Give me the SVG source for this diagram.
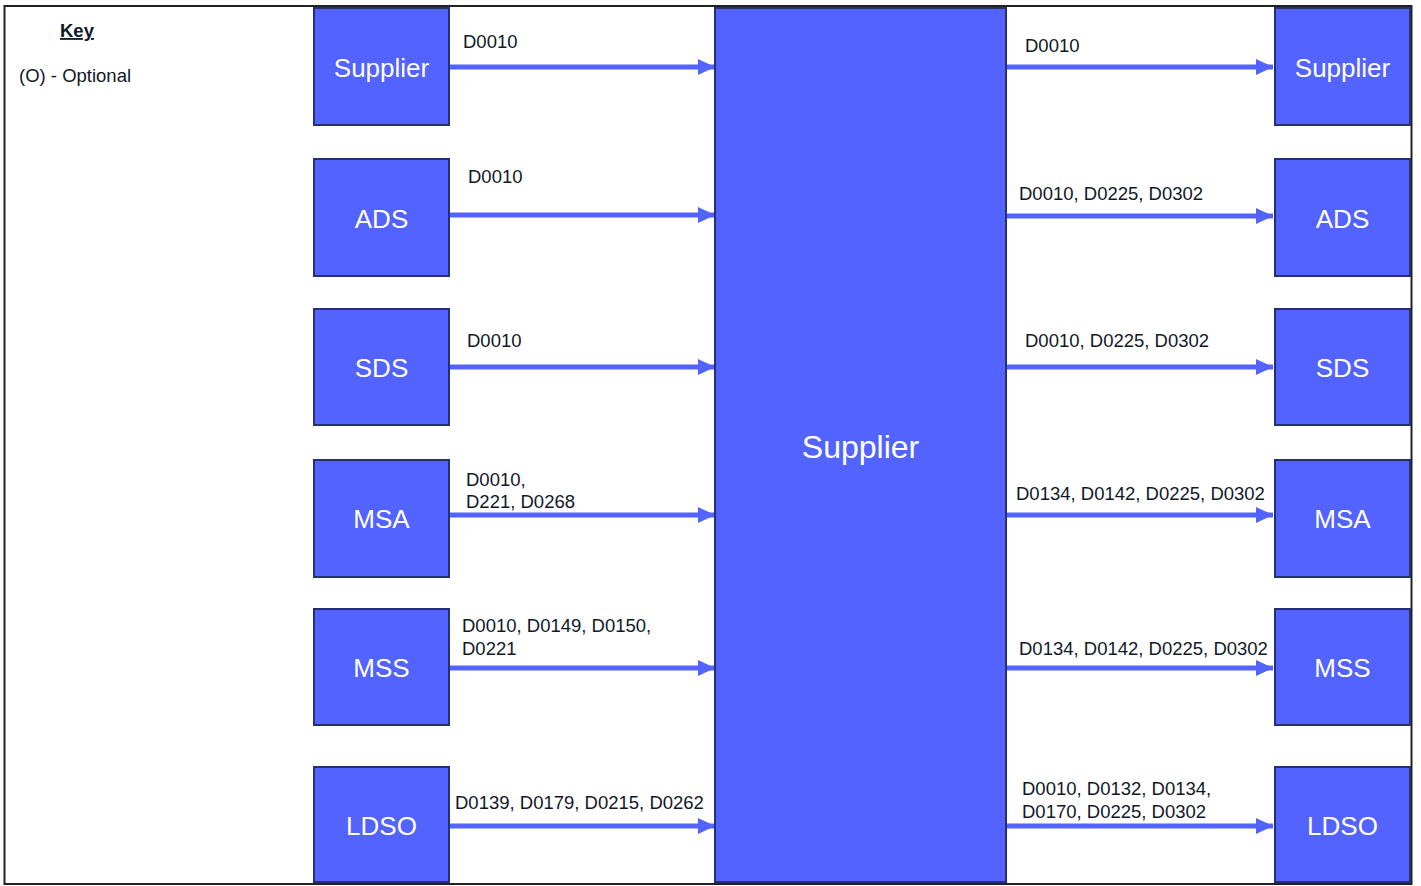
<svg xmlns="http://www.w3.org/2000/svg" width="1421" height="886" viewBox="0 0 1421 886">
<style>
.n{fill:#5263ff;stroke:#26306e;stroke-width:2}
.nt{font-family:"Liberation Sans",Arial,sans-serif;font-size:26px;fill:#ffffff;text-anchor:middle}
.big{font-size:32px}
.lb{font-family:"Liberation Sans",Arial,sans-serif;font-size:18.5px;fill:#111827}
.c{stroke:#5263ff;stroke-width:5;fill:none;marker-end:url(#ah)}
</style>
<defs>
<marker id="ah" markerUnits="userSpaceOnUse" markerWidth="18" markerHeight="18" refX="17" refY="9" orient="auto">
<path d="M0,1 L17,9 L0,17 Z" fill="#5263ff"/>
</marker>
</defs>
<rect x="0" y="0" width="1421" height="886" fill="#ffffff"/>
<rect x="4.5" y="6" width="1407" height="878" fill="none" stroke="#222" stroke-width="2"/>
<g id="key">
<text x="60" y="37" class="lb" font-weight="bold" text-decoration="underline">Key</text>
<text x="19" y="82" class="lb">(O) - Optional</text>
</g>
<g id="connectors">
<line class="c" x1="450" y1="67" x2="715" y2="67"/>
<line class="c" x1="450" y1="215" x2="715" y2="215"/>
<line class="c" x1="450" y1="367" x2="715" y2="367"/>
<line class="c" x1="450" y1="515" x2="715" y2="515"/>
<line class="c" x1="450" y1="668" x2="715" y2="668"/>
<line class="c" x1="450" y1="826" x2="715" y2="826"/>
<line class="c" x1="1007" y1="67" x2="1273" y2="67"/>
<line class="c" x1="1007" y1="216" x2="1273" y2="216"/>
<line class="c" x1="1007" y1="367" x2="1273" y2="367"/>
<line class="c" x1="1007" y1="515" x2="1273" y2="515"/>
<line class="c" x1="1007" y1="668" x2="1273" y2="668"/>
<line class="c" x1="1007" y1="826" x2="1273" y2="826"/>
<text x="463" y="48" class="lb">D0010</text>
<text x="468" y="183" class="lb">D0010</text>
<text x="467" y="347" class="lb">D0010</text>
<text x="466" y="486" class="lb">D0010,</text>
<text x="466" y="508" class="lb">D221, D0268</text>
<text x="462" y="632" class="lb">D0010, D0149, D0150,</text>
<text x="462" y="655" class="lb">D0221</text>
<text x="455" y="809" class="lb">D0139, D0179, D0215, D0262</text>
<text x="1025" y="52" class="lb">D0010</text>
<text x="1019" y="200" class="lb">D0010, D0225, D0302</text>
<text x="1025" y="347" class="lb">D0010, D0225, D0302</text>
<text x="1016" y="500" class="lb">D0134, D0142, D0225, D0302</text>
<text x="1019" y="655" class="lb">D0134, D0142, D0225, D0302</text>
<text x="1022" y="795" class="lb">D0010, D0132, D0134,</text>
<text x="1022" y="818" class="lb">D0170, D0225, D0302</text>
</g>
<g id="supplier-left"><rect class="n" x="314" y="8" width="135" height="117"/><text class="nt" x="381.5" y="77">Supplier</text></g>
<g id="ads-left"><rect class="n" x="314" y="159" width="135" height="117"/><text class="nt" x="381.5" y="228">ADS</text></g>
<g id="sds-left"><rect class="n" x="314" y="309" width="135" height="116"/><text class="nt" x="381.5" y="377">SDS</text></g>
<g id="msa-left"><rect class="n" x="314" y="460" width="135" height="117"/><text class="nt" x="381.5" y="528">MSA</text></g>
<g id="mss-left"><rect class="n" x="314" y="609" width="135" height="116"/><text class="nt" x="381.5" y="677">MSS</text></g>
<g id="ldso-left"><rect class="n" x="314" y="767" width="135" height="115"/><text class="nt" x="381.5" y="835">LDSO</text></g>
<g id="supplier-center"><rect class="n" x="715" y="8" width="291" height="874"/><text class="nt big" x="860.5" y="458">Supplier</text></g>
<g id="supplier-right"><rect class="n" x="1275" y="8" width="135" height="117"/><text class="nt" x="1342.5" y="77">Supplier</text></g>
<g id="ads-right"><rect class="n" x="1275" y="159" width="135" height="117"/><text class="nt" x="1342.5" y="228">ADS</text></g>
<g id="sds-right"><rect class="n" x="1275" y="309" width="135" height="116"/><text class="nt" x="1342.5" y="377">SDS</text></g>
<g id="msa-right"><rect class="n" x="1275" y="460" width="135" height="117"/><text class="nt" x="1342.5" y="528">MSA</text></g>
<g id="mss-right"><rect class="n" x="1275" y="609" width="135" height="116"/><text class="nt" x="1342.5" y="677">MSS</text></g>
<g id="ldso-right"><rect class="n" x="1275" y="767" width="135" height="115"/><text class="nt" x="1342.5" y="835">LDSO</text></g>
</svg>
